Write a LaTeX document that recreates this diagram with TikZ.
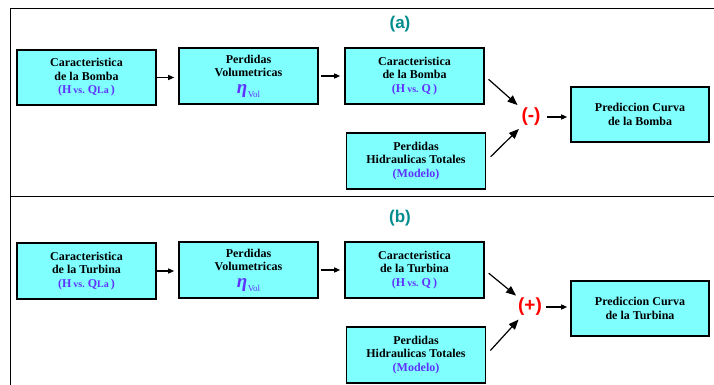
\documentclass[tikz,border=0pt]{standalone}
\usepackage{fontspec}
\setmainfont{Liberation Serif}
\newfontfamily\timesf{Liberation Serif}
\newfontfamily\arialf{Liberation Sans}
\usetikzlibrary{arrows.meta}
\definecolor{boxfill}{RGB}{128,255,255}
\definecolor{bluetxt}{RGB}{95,50,255}
\definecolor{tealtxt}{RGB}{0,140,140}
\definecolor{redtxt}{RGB}{255,0,0}
\newcommand\smallt[1]{{\fontsize{10}{10}\selectfont #1}}
\newcommand\hvq[1]{\textcolor{bluetxt}{(H\,\smallt{vs.}\ Q#1\,)}}
\newcommand\etavol{\textcolor{bluetxt}{{\fontsize{19}{16}\selectfont\itshape η}\hspace{0.5pt}\raisebox{-4pt}{\fontsize{9}{9}\selectfont\mdseries Vol}}}
\begin{document}
\begin{tikzpicture}[x=1pt,y=-1pt,
  box/.style={draw, line width=1.6pt, fill=boxfill, minimum width=139pt, minimum height=56pt,
    align=center, inner sep=0pt, font=\timesf\bfseries\fontsize{12}{13.5}\selectfont},
  sumlbl/.style={text=redtxt, font=\arialf\bfseries\fontsize{19}{19}\selectfont, inner sep=0pt},
  panlbl/.style={text=tealtxt, font=\arialf\bfseries\fontsize{17}{17}\selectfont, inner sep=0pt},
  arr/.style={-{Triangle[length=6pt,width=5pt]}, line width=1.3pt},
  darr/.style={-{Triangle[length=10pt,width=8pt]}, line width=1.2pt},
  frame/.style={line width=1pt}]
\useasboundingbox (0,0) rectangle (714,385);
\fill[white] (0,0) rectangle (714,385);
\draw[frame] (714,9) -- (10,9) -- (10,385);
\draw[frame] (10,196) -- (714,196);

% panel (a)
\node[panlbl] (la) at (400,24) {(a)};
\node[box, minimum height=55pt] (a1) at (86.5,77.5) {Caracteristica\\de la Bomba\\\hvq{\smallt{La}}};
\node[box] (a2) at (248.5,76) {Perdidas\\Volumetricas\\[3pt]\etavol};
\node[box] (a3) at (414.5,76) {Caracteristica\\de la Bomba\\\hvq{}};
\node[box] (a4) at (416,161) {Perdidas\\Hidraulicas Totales\\\textcolor{bluetxt}{(Modelo)}};
\node[box, minimum width=138pt, minimum height=55pt] (a5) at (640,114.5) {Prediccion Curva\\de la Bomba};
\node[sumlbl] (as) at (531,117) {(-)};
\draw[arr, shorten >=4pt] (a1.east) -- (a1.east -| a2.west);
\draw[arr, shorten <=2pt, shorten >=4pt] (a2.east) -- (a2.east -| a3.west);
\draw[darr, shorten <=5pt, shorten >=18pt] (a3.east) -- (as.center);
\draw[darr, shorten <=6pt, shorten >=17pt] (a4.east) -- (as.center);
\draw[arr, shorten <=16pt, shorten >=3pt] (as.center) -- (as.center -| a5.west);

% panel (b)
\node[panlbl] (lb) at (400,218) {(b)};
\node[box] (b1) at (86.5,271) {Caracteristica\\de la Turbina\\\hvq{\smallt{La}}};
\node[box] (b2) at (248.5,270) {Perdidas\\Volumetricas\\[3pt]\etavol};
\node[box] (b3) at (414.5,270) {Caracteristica\\de la Turbina\\\hvq{}};
\node[box] (b4) at (416,355) {Perdidas\\Hidraulicas Totales\\\textcolor{bluetxt}{(Modelo)}};
\node[box, minimum width=138pt, minimum height=55pt] (b5) at (640,308.5) {Prediccion Curva\\de la Turbina};
\node[sumlbl] (bs) at (530,307) {(+)};
\draw[arr, shorten >=4pt] (b1.east) -- (b1.east -| b2.west);
\draw[arr, shorten <=2pt, shorten >=4pt] (b2.east) -- (b2.east -| b3.west);
\draw[darr, shorten <=5pt, shorten >=18pt] (b3.east) -- (bs.center);
\draw[darr, shorten <=6pt, shorten >=17pt] (b4.east) -- (bs.center);
\draw[arr, shorten <=16pt, shorten >=3pt] (bs.center) -- (bs.center -| b5.west);
\end{tikzpicture}
\end{document}
